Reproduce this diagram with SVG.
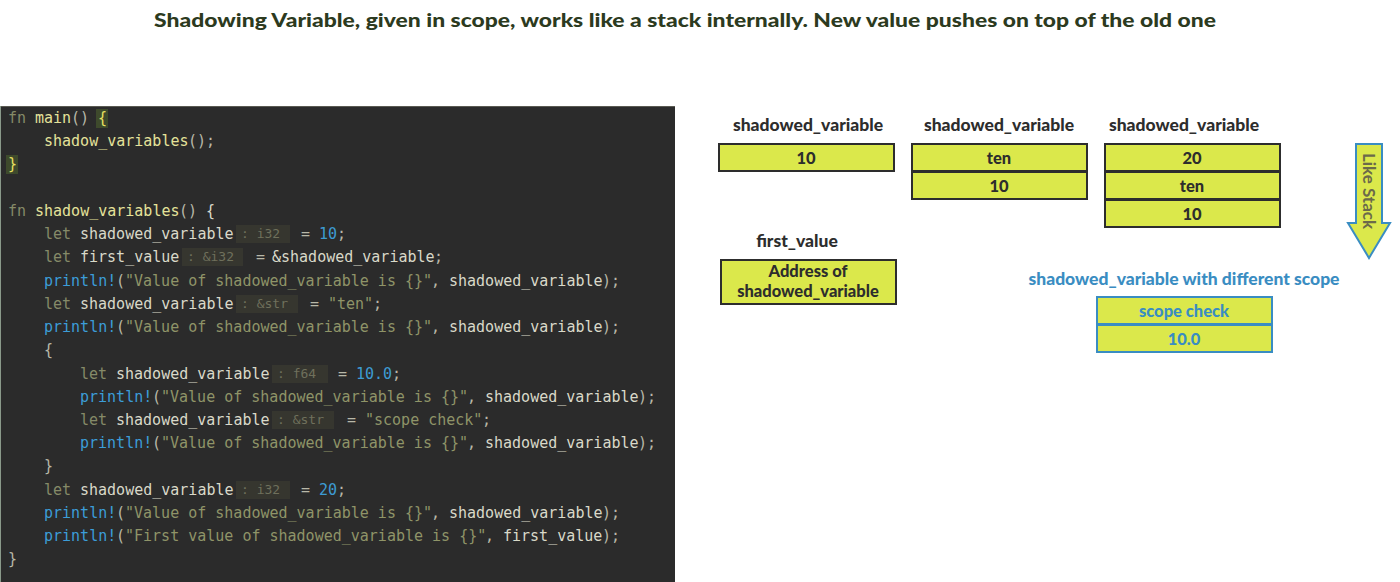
<svg xmlns="http://www.w3.org/2000/svg" width="1400" height="582" viewBox="0 0 1400 582">
<style>
.title{font-family:Lato,"Noto Sans",sans-serif;font-weight:900;font-size:19.5px;fill:#2c3a20}
.code{font-family:"DejaVu Sans Mono","Liberation Mono",monospace;font-size:15px;fill:#d9d9c9}
.kw{fill:#858a68}
.fnn{fill:#e4e29a}
.str{fill:#8f9468}
.num{fill:#3d9bd3}
.mac{fill:#3c9dd8}
.pun{fill:#b8b8a8}
.hintbg{fill:#36362f}
.hint{font-family:"DejaVu Sans Mono","Liberation Mono",monospace;font-size:13px;fill:#6f705c}
.brbg{fill:#3e4a2c}
.br{fill:#e8e060}
.lbl{font-family:Lato,"Noto Sans",sans-serif;font-weight:900;font-size:17.5px;fill:#2d2d2d;text-anchor:middle}
.blbl{font-family:Lato,"Noto Sans",sans-serif;font-weight:900;font-size:17.5px;fill:#3a8dc2;text-anchor:middle}
.cell{fill:#dbe84b;stroke:#2d2d2d;stroke-width:2}
.bcell{fill:#dbe84b;stroke:#3a8dc2;stroke-width:2}
.ct{font-family:Lato,"Noto Sans",sans-serif;font-weight:900;font-size:16.5px;fill:#2d2d2d;text-anchor:middle}
.bct{font-family:Lato,"Noto Sans",sans-serif;font-weight:900;font-size:16.5px;fill:#3a8dc2;text-anchor:middle}
</style>
<rect width="1400" height="582" fill="#ffffff"/>
<g id="title">
<text class="title" x="685" y="27" text-anchor="middle" textLength="1062" lengthAdjust="spacingAndGlyphs">Shadowing Variable, given in scope, works like a stack internally. New value pushes on top of the old one</text>
</g>
<g id="code-panel">
<rect x="0" y="106" width="675" height="476" fill="#2b2b2b"/>
<line x1="0" y1="106.5" x2="675" y2="106.5" stroke="#5a5a52" stroke-width="1"/>
<line x1="0.5" y1="106" x2="0.5" y2="582" stroke="#8a9a8a" stroke-width="1"/>
<rect class="brbg" x="96" y="109" width="12" height="19"/>
<rect class="brbg" x="6" y="155" width="12" height="19"/>
<rect class="hintbg" x="236" y="225" width="54" height="18"/>
<rect class="hintbg" x="182" y="248" width="61" height="18"/>
<rect class="hintbg" x="236" y="295" width="62" height="18"/>
<rect class="hintbg" x="272" y="365" width="56" height="18"/>
<rect class="hintbg" x="272" y="411" width="62" height="18"/>
<rect class="hintbg" x="236" y="481" width="54" height="18"/>
<text class="code" y="123"><tspan class="kw" x="8">fn</tspan><tspan class="fnn" x="35">main</tspan><tspan class="pun" x="71">()</tspan><tspan class="br" x="98">{</tspan></text>
<text class="code" y="146"><tspan class="fnn" x="44">shadow_variables</tspan><tspan class="pun" x="188">();</tspan></text>
<text class="code" y="169"><tspan class="br" x="8">}</tspan></text>
<text class="code" y="216"><tspan class="kw" x="8">fn</tspan><tspan class="fnn" x="35">shadow_variables</tspan><tspan class="pun" x="179">()</tspan><tspan x="206">{</tspan></text>
<text class="code" y="239"><tspan class="kw" x="44">let</tspan><tspan x="80">shadowed_variable</tspan><tspan class="pun" x="301">=</tspan><tspan class="num" x="319">10</tspan><tspan class="pun" x="337">;</tspan></text>
<text class="hint" x="241" y="238">: i32</text>
<text class="code" y="262"><tspan class="kw" x="44">let</tspan><tspan x="80">first_value</tspan><tspan class="pun" x="256">=</tspan><tspan x="272">&amp;shadowed_variable</tspan><tspan class="pun" x="434">;</tspan></text>
<text class="hint" x="187" y="261">: &amp;i32</text>
<text class="code" y="286"><tspan class="mac" x="44">println!</tspan><tspan class="pun" x="116">(</tspan><tspan class="str" x="125">"Value of shadowed_variable is {}"</tspan><tspan class="pun" x="431">,</tspan><tspan x="449">shadowed_variable</tspan><tspan class="pun" x="602">);</tspan></text>
<text class="code" y="309"><tspan class="kw" x="44">let</tspan><tspan x="80">shadowed_variable</tspan><tspan class="pun" x="310">=</tspan><tspan class="str" x="328">"ten"</tspan><tspan class="pun" x="373">;</tspan></text>
<text class="hint" x="241" y="308">: &amp;str</text>
<text class="code" y="332"><tspan class="mac" x="44">println!</tspan><tspan class="pun" x="116">(</tspan><tspan class="str" x="125">"Value of shadowed_variable is {}"</tspan><tspan class="pun" x="431">,</tspan><tspan x="449">shadowed_variable</tspan><tspan class="pun" x="602">);</tspan></text>
<text class="code" y="355"><tspan class="pun" x="44">{</tspan></text>
<text class="code" y="379"><tspan class="kw" x="80">let</tspan><tspan x="116">shadowed_variable</tspan><tspan class="pun" x="338">=</tspan><tspan class="num" x="356">10.0</tspan><tspan class="pun" x="392">;</tspan></text>
<text class="hint" x="277" y="378">: f64</text>
<text class="code" y="402"><tspan class="mac" x="80">println!</tspan><tspan class="pun" x="152">(</tspan><tspan class="str" x="161">"Value of shadowed_variable is {}"</tspan><tspan class="pun" x="467">,</tspan><tspan x="485">shadowed_variable</tspan><tspan class="pun" x="638">);</tspan></text>
<text class="code" y="425"><tspan class="kw" x="80">let</tspan><tspan x="116">shadowed_variable</tspan><tspan class="pun" x="347">=</tspan><tspan class="str" x="365">"scope check"</tspan><tspan class="pun" x="482">;</tspan></text>
<text class="hint" x="277" y="424">: &amp;str</text>
<text class="code" y="448"><tspan class="mac" x="80">println!</tspan><tspan class="pun" x="152">(</tspan><tspan class="str" x="161">"Value of shadowed_variable is {}"</tspan><tspan class="pun" x="467">,</tspan><tspan x="485">shadowed_variable</tspan><tspan class="pun" x="638">);</tspan></text>
<text class="code" y="471"><tspan class="pun" x="44">}</tspan></text>
<text class="code" y="495"><tspan class="kw" x="44">let</tspan><tspan x="80">shadowed_variable</tspan><tspan class="pun" x="301">=</tspan><tspan class="num" x="319">20</tspan><tspan class="pun" x="337">;</tspan></text>
<text class="hint" x="241" y="494">: i32</text>
<text class="code" y="518"><tspan class="mac" x="44">println!</tspan><tspan class="pun" x="116">(</tspan><tspan class="str" x="125">"Value of shadowed_variable is {}"</tspan><tspan class="pun" x="431">,</tspan><tspan x="449">shadowed_variable</tspan><tspan class="pun" x="602">);</tspan></text>
<text class="code" y="541"><tspan class="mac" x="44">println!</tspan><tspan class="pun" x="116">(</tspan><tspan class="str" x="125">"First value of shadowed_variable is {}"</tspan><tspan class="pun" x="485">,</tspan><tspan x="503">first_value</tspan><tspan class="pun" x="602">);</tspan></text>
<text class="code" y="564"><tspan class="pun" x="8">}</tspan></text>
</g>
<g id="stack-1">
<text class="lbl" x="808" y="131">shadowed_variable</text>
<rect class="cell" x="719" y="144" width="175" height="27"/>
<text class="ct" x="806" y="163.5">10</text>
</g>
<g id="stack-2">
<text class="lbl" x="999" y="131">shadowed_variable</text>
<rect class="cell" x="912" y="144" width="175" height="27"/>
<text class="ct" x="999" y="163.5">ten</text>
<rect class="cell" x="912" y="172" width="175" height="27"/>
<text class="ct" x="999" y="191.5">10</text>
</g>
<g id="stack-3">
<text class="lbl" x="1184" y="131">shadowed_variable</text>
<rect class="cell" x="1105" y="144" width="175" height="27"/>
<text class="ct" x="1192" y="163.5">20</text>
<rect class="cell" x="1105" y="172" width="175" height="27"/>
<text class="ct" x="1192" y="191.5">ten</text>
<rect class="cell" x="1105" y="200" width="175" height="27"/>
<text class="ct" x="1192" y="219.5">10</text>
</g>
<g id="first-value">
<text class="lbl" x="797" y="247">first_value</text>
<rect class="cell" x="721" y="260" width="175" height="44"/>
<text class="ct" x="808" y="277">Address of</text>
<text class="ct" x="808" y="297">shadowed_variable</text>
</g>
<g id="scope-stack">
<text class="blbl" x="1184" y="284.5">shadowed_variable with different scope</text>
<rect class="bcell" x="1097" y="297" width="175" height="27"/>
<text class="bct" x="1184" y="316.5">scope check</text>
<rect class="bcell" x="1097" y="325" width="175" height="27"/>
<text class="bct" x="1184" y="344.5">10.0</text>
</g>
<g id="like-stack">
<path d="M1356,144 L1382,144 L1382,223 L1390,223 L1369,258 L1348,223 L1356,223 Z" fill="#dbe84b" stroke="#3a8dc2" stroke-width="2" stroke-linejoin="miter"/>
<text x="1369" y="191" transform="rotate(90 1369 191)" text-anchor="middle" dominant-baseline="central" font-family="Lato,'Noto Sans',sans-serif" font-weight="bold" font-size="17px" fill="#6b6a4a">Like Stack</text>
</g>
<g id="connectors"></g>
</svg>
